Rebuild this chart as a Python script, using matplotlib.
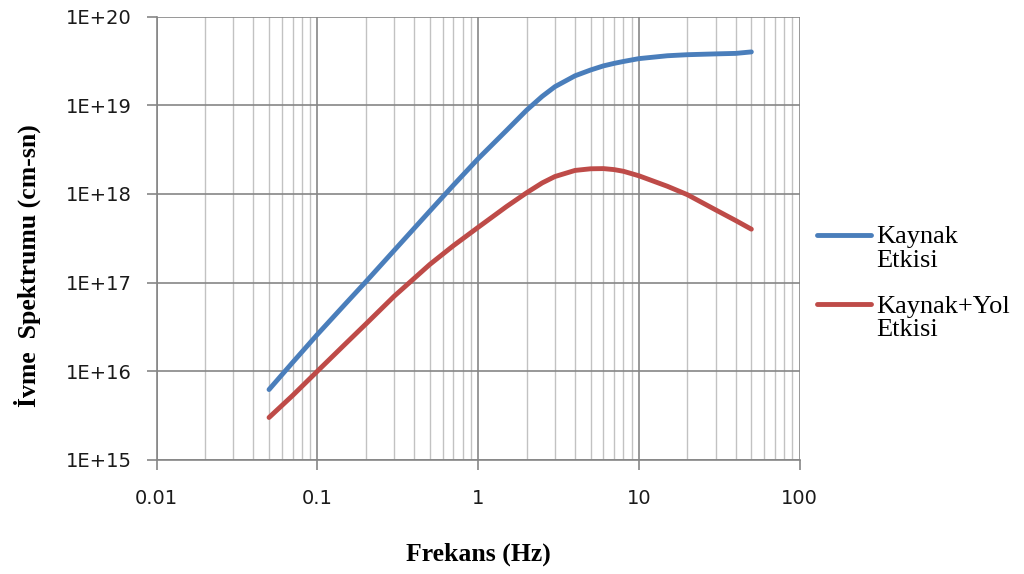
import numpy as np
import matplotlib
matplotlib.use('Agg')
import matplotlib.pyplot as plt
from matplotlib.ticker import LogLocator, NullFormatter, FixedLocator

# frekans (Hz) ve ivme spektrumu degerleri
frekans = [0.05, 0.07, 0.1, 0.15, 0.2, 0.3, 0.5, 0.7, 1, 1.5, 2, 2.5, 3, 4,
           5, 6, 7, 8, 10, 15, 20, 30, 40, 50]
kaynak = [6.2e15, 1.25e16, 2.6e16, 5.8e16, 1.02e17, 2.3e17, 6.4e17, 1.25e18,
          2.5e18, 5.2e18, 8.8e18, 1.26e19, 1.62e19, 2.15e19,
          2.5e19, 2.78e19, 2.97e19, 3.12e19, 3.36e19, 3.62e19, 3.72e19,
          3.8e19, 3.85e19, 4.0e19]
kaynak_yol = [3.0e15, 5.3e15, 1.0e16, 2.05e16, 3.4e16, 7.0e16, 1.6e17, 2.6e17,
              4.2e17, 7.2e17, 1.03e18, 1.33e18, 1.57e18, 1.84e18,
              1.92e18, 1.93e18, 1.88e18, 1.8e18, 1.6e18, 1.22e18, 9.8e17,
              6.6e17, 5.0e17, 4.0e17]

x_ticks = [0.01, 0.1, 1, 10, 100]
x_labels = ['0.01', '0.1', '1', '10', '100']
y_ticks = [1e15, 1e16, 1e17, 1e18, 1e19, 1e20]
y_labels = ['1E+15', '1E+16', '1E+17', '1E+18', '1E+19', '1E+20']

fig = plt.figure(figsize=(10.24, 5.74), dpi=100)
ax = fig.add_axes([0.153, 0.199, 0.628, 0.772])

ax.plot(frekans, kaynak, color='#4A7EBB', lw=3.5, solid_capstyle='round',
        label='Kaynak\nEtkisi')
ax.plot(frekans, kaynak_yol, color='#BE4B48', lw=3.5, solid_capstyle='round',
        label='Kaynak+Yol\nEtkisi')

ax.set_xscale('log')
ax.set_yscale('log')
ax.set_xlim(0.01, 100)
ax.set_ylim(1e15, 1e20)

ax.xaxis.set_major_locator(FixedLocator(x_ticks))
ax.set_xticklabels(x_labels)
ax.xaxis.set_minor_locator(LogLocator(base=10, subs=np.arange(2, 10)))
ax.xaxis.set_minor_formatter(NullFormatter())
ax.yaxis.set_major_locator(FixedLocator(y_ticks))
ax.set_yticklabels(y_labels)
ax.yaxis.set_minor_locator(FixedLocator([]))

ax.grid(which='major', color='#868686', lw=1.2)
ax.grid(which='minor', axis='x', color='#c2c2c2', lw=1.0)
ax.set_axisbelow(True)

for side in ['top', 'right']:
    ax.spines[side].set_visible(False)
for side in ['left', 'bottom']:
    ax.spines[side].set_color('#868686')
    ax.spines[side].set_linewidth(1.2)

ax.tick_params(which='major', length=7, width=1.2, color='#868686',
               labelsize=14, labelcolor='#1a1a1a')
ax.tick_params(axis='x', which='major', pad=14)
ax.tick_params(axis='y', which='major', pad=11)
ax.tick_params(which='minor', length=0)
for lab in ax.get_xticklabels() + ax.get_yticklabels():
    lab.set_family('DejaVu Sans')

ax.set_xlabel('Frekans (Hz)', family='Liberation Serif', weight='bold',
              fontsize=18.5, labelpad=25)
fig.text(0.027, 0.538, 'İvme  Spektrumu (cm-sn)', family='Liberation Serif',
         weight='bold', fontsize=18.5, rotation=90, ha='center', va='center')

leg = ax.legend(loc='center left', bbox_to_anchor=(0.99, 0.397),
                frameon=False, prop={'family': 'Liberation Serif', 'size': 19},
                handlelength=2.05, handletextpad=0.2, labelspacing=0.9)
for t in leg.get_texts():
    t.set_linespacing(1.1)
# legend lines sit next to the first text line
for h in leg.legend_handles:
    h.set_ydata(np.asarray(h.get_ydata()) + 10)

fig.savefig('out.png', dpi=100)
